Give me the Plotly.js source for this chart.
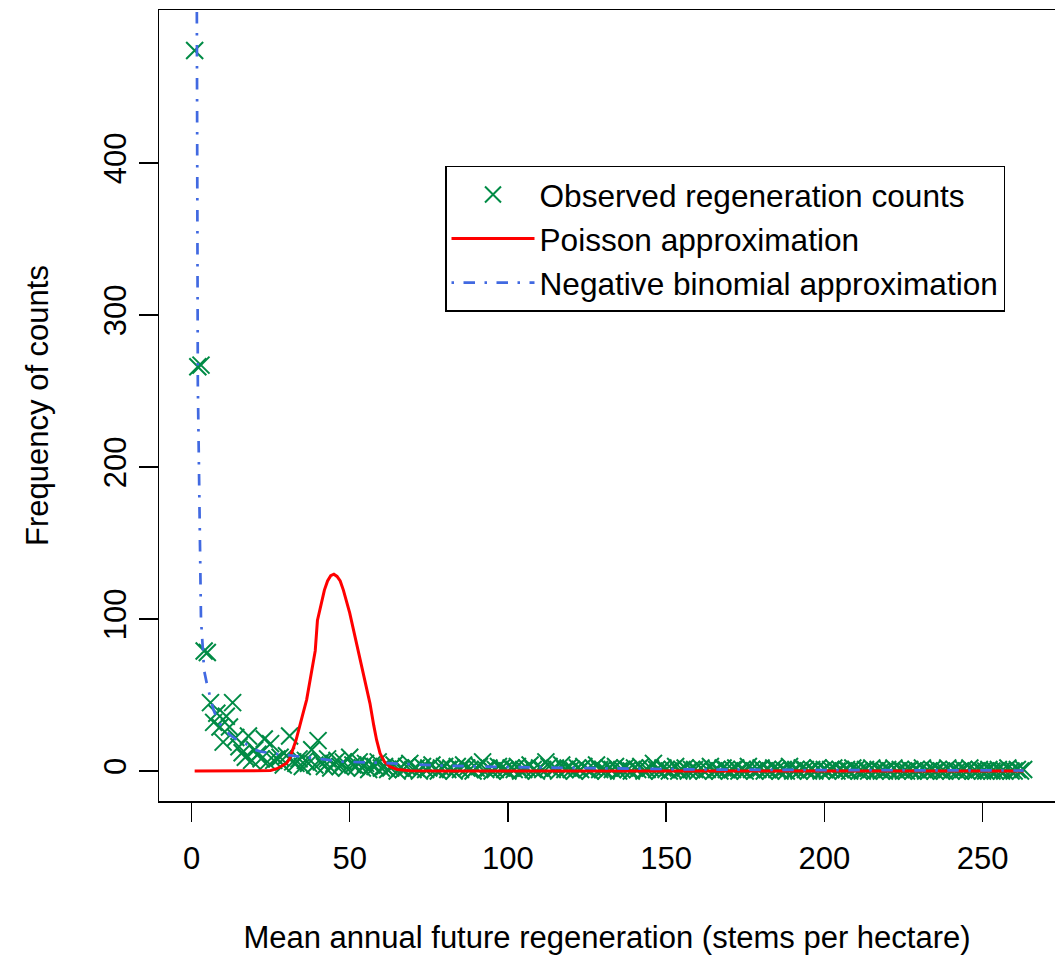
<!DOCTYPE html>
<html>
<head>
<meta charset="utf-8">
<script src="https://cdn.plot.ly/plotly-3.0.1.min.js"></script>
<style>html,body{margin:0;padding:0;background:#fff;}#chart{width:1055px;height:955px;}</style>
</head>
<body>
<div id="chart"></div>
<script>
// Observed frequency of counts for x = 1 .. 263
var obsX = [];
for (var i = 1; i <= 263; i++) obsX.push(i);
var obsY = [
  474,266,267,79,78,45,32,38,29,19,36,29,45,22,16,12,9,23,7,14,
  11,8,21,6,18,7,8,9,4,10,23,6,5,8,3,7,5,14,4,20,
  6,3,8,2,5,7,3,6,2,9,4,3,6,2,5,1,4,3,6,2,
  3,1,2,4,0,2,1,3,5,1,2,0,3,1,2,4,1,0,2,3,
  1,2,0,3,1,4,2,1,0,2,3,6,1,2,0,1,3,2,1,0,
  2,1,3,0,1,2,4,1,0,2,1,6,3,1,2,0,4,1,2,1,
  0,2,1,3,1,0,2,4,1,1,0,2,1,3,0,1,2,1,0,2,
  1,3,0,1,2,5,1,0,2,1,0,1,3,0,1,2,0,1,1,0,
  2,0,1,3,0,1,0,2,1,0,1,2,0,1,0,3,1,0,1,2,
  0,1,0,2,1,0,1,0,3,0,1,0,2,1,0,1,0,2,0,1,
  0,1,2,0,1,0,1,0,2,1,0,0,1,0,2,0,1,0,0,1,
  0,2,0,1,0,0,1,0,1,0,2,0,0,1,0,1,0,0,2,0,
  1,0,0,1,0,2,0,0,1,0,0,1,0,0,1,0,0,2,0,0,1,0,1
];

// Poisson approximation
var poisX = [1, 20, 25, 27, 29, 30, 31, 33, 35, 36.4, 38, 39.1, 39.8, 41, 42, 43, 44, 45, 46, 47, 48, 50, 52, 53.3, 55, 56.4, 57.6, 58.5, 59.6, 61, 62.7, 65, 69, 80, 263];
var poisY = [0, 0, 0.3, 1.5, 3.5, 5, 8, 20, 36, 47, 66, 79, 99, 111, 119, 125, 128.5, 129.5, 128, 125, 119, 104, 86, 73, 57, 44.5, 30, 20.4, 11.6, 6, 2.8, 1, 0.2, 0, 0];

// Negative binomial approximation
var nbX = [1, 2, 3, 4, 5, 6, 7, 8, 9, 10, 12, 14, 16, 18, 20, 22, 26, 30, 37.5, 48, 58, 69, 80, 100, 130, 160, 200, 230, 263];
var nbY = [1050, 255, 100, 66, 56, 47, 40, 35, 31, 29, 24, 21, 19, 17, 14, 12.7, 11.5, 10.5, 8.8, 6.1, 5.5, 4.4, 3.5, 2.6, 1.6, 1.0, 0.6, 0.4, 0.3];

var xTicks = [0, 50, 100, 150, 200, 250];
var yTicks = [0, 100, 200, 300, 400];

var FONT = 'Liberation Sans, Arial, Helvetica, sans-serif';
var FS = 31;

var traces = [
  {
    x: obsX, y: obsY, type: 'scatter', mode: 'markers',
    name: 'Observed regeneration counts',
    marker: {symbol: 'x-thin-open', size: 17, color: '#008B45', line: {color: '#008B45', width: 2}},
    cliponaxis: true
  },
  {
    x: poisX, y: poisY, type: 'scatter', mode: 'lines',
    name: 'Poisson approximation',
    line: {color: '#FF0000', width: 3}
  },
  {
    x: nbX, y: nbY, type: 'scatter', mode: 'lines',
    name: 'Negative binomial approximation',
    line: {color: '#4169E1', width: 2.7, dash: '2.5px,9.5px,11.5px,9.5px'}
  }
];

var layout = {
  width: 1055, height: 955,
  margin: {l: 159, r: 0, t: 10, b: 154, pad: 0},
  paper_bgcolor: '#ffffff', plot_bgcolor: '#ffffff',
  font: {family: FONT, size: FS, color: '#000000'},
  showlegend: true,
  legend: {
    x: 0.3192, y: 0.8028, xanchor: 'left', yanchor: 'top',
    bordercolor: '#000000', borderwidth: 1.5, bgcolor: '#ffffff',
    font: {family: FONT, size: 31.6, color: '#000000'},
    itemwidth: 83
  },
  xaxis: {
    range: [-10.27, 272.9], autorange: false,
    tickmode: 'array', tickvals: xTicks, ticktext: xTicks.map(String),
    ticks: 'outside', ticklen: 19, tickwidth: 1.5, tickcolor: '#000',
    ticklabelstandoff: 10,
    showline: true, mirror: true, linecolor: '#000', linewidth: 1.5,
    showgrid: false, zeroline: false,
    tickfont: {family: FONT, size: FS},
    title: {text: 'Mean annual future regeneration (stems per hectare)', font: {family: FONT, size: FS}, standoff: 51},
    automargin: false
  },
  yaxis: {
    range: [-19.74, 500.66], autorange: false,
    tickmode: 'array', tickvals: yTicks, ticktext: yTicks.map(String),
    ticks: 'outside', ticklen: 19, tickwidth: 1.5, tickcolor: '#000',
    tickangle: -90,
    showline: true, mirror: false, linecolor: '#000', linewidth: 1.5,
    showgrid: false, zeroline: false,
    tickfont: {family: FONT, size: FS},
    title: {text: 'Frequency of counts', font: {family: FONT, size: FS}, standoff: 40},
    automargin: false
  }
};

Plotly.newPlot('chart', traces, layout, {displayModeBar: false, staticPlot: true});
</script>
</body>
</html>
